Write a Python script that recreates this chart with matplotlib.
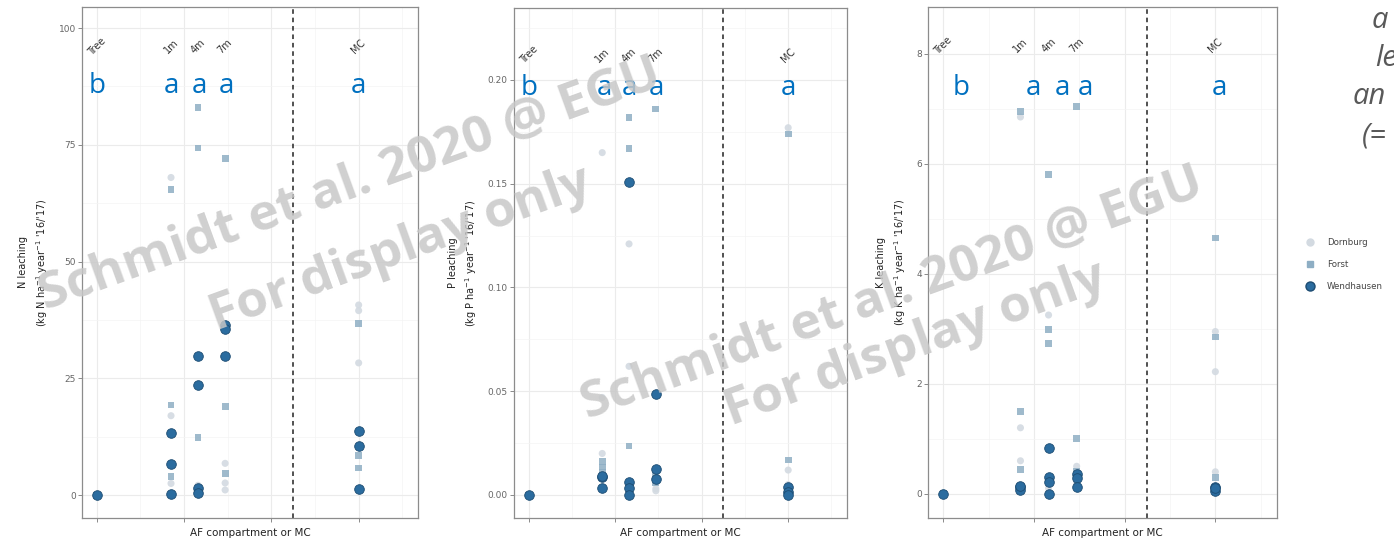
import numpy as np
import matplotlib
matplotlib.use("Agg")
import matplotlib.pyplot as plt
from matplotlib.lines import Line2D

# compartments and their positions on the x axis
compartments = ["Tree", "1m", "4m", "7m", "MC"]
comp_x = [0.0, 0.85, 1.16, 1.47, 3.0]
split_x = 2.25

sites = ["Dornburg", "Forst", "Wendhausen"]

# leaching per site, one list of plot values per compartment
n_dornburg = [[0], [68.0, 17.0, 2.5], [2.1, 1.2, 0.5], [6.8, 2.6, 1.1], [40.7, 39.5, 28.3]]
n_forst = [[0], [65.5, 19.3, 3.9], [82.9, 74.3, 12.4], [72.1, 19.0, 4.7], [36.8, 8.4, 5.8]]
n_wendhausen = [[0], [13.2, 6.6, 0.2], [29.8, 23.6, 1.5, 0.4], [36.4, 35.5, 29.8], [13.7, 10.5, 1.3]]

p_dornburg = [[0], [0.165, 0.047, 0.020], [0.121, 0.062, 0.002], [0.006, 0.003, 0.002], [0.177, 0.012, 0.005]]
p_forst = [[0], [0.016, 0.0135, 0.011], [0.182, 0.167, 0.0236], [0.186, 0.010, 0.006], [0.174, 0.0169, 0.003]]
p_wendhausen = [[0], [0.0087, 0.0034, 0.009], [0.151, 0.0063, 0.0034, 0.0], [0.0487, 0.0125, 0.0077], [0.004, 0.0015, 0.0]]

k_dornburg = [[0], [6.85, 1.2, 0.6], [3.25, 0.3, 0.1], [0.5, 0.35, 0.2], [2.95, 2.22, 0.4]]
k_forst = [[0], [6.95, 1.49, 0.44], [5.8, 2.98, 2.73], [7.04, 1.0, 0.4], [4.65, 2.85, 0.29]]
k_wendhausen = [[0], [0.13, 0.07, 0.15], [0.84, 0.31, 0.22, 0.0], [0.36, 0.29, 0.13], [0.13, 0.05, 0.1]]

# significance letters
letters = ["b", "a", "a", "a", "a"]
letter_x_n = [0.0, 0.85, 1.17, 1.48, 3.0]
letter_x_p = [0.0, 0.87, 1.17, 1.48, 3.0]
letter_x_k = [0.19, 0.99, 1.31, 1.57, 3.04]

n_ticks = [0, 25, 50, 75, 100]
p_ticks = [0.00, 0.05, 0.10, 0.15, 0.20]
k_ticks = [0, 2, 4, 6, 8]

site_style = {
    "Dornburg": dict(marker="o", s=26, color="#d3dae1", edgecolors="none", alpha=0.9),
    "Forst": dict(marker="s", s=24, color="#8eaec4", edgecolors="none", alpha=0.85),
    "Wendhausen": dict(marker="o", s=48, color="#2b6c9f", edgecolors="#1d4c72", linewidths=0.6),
}

W, H = 1394, 542
fig = plt.figure(figsize=(W / 100, H / 100), dpi=100)


def px_box(left, top, right, bottom):
    return [left / W, 1 - bottom / H, (right - left) / W, (bottom - top) / H]


panels = [
    dict(box=px_box(82, 7, 418, 518), data=[n_dornburg, n_forst, n_wendhausen],
         ylim=(-4.9, 104.5), ticks=n_ticks, fmt="{:.0f}", minor=12.5,
         ylabel="N leaching\n(kg N ha$^{-1}$ year$^{-1}$ '16/'17)",
         label_y=96, letter_y=87.5, letter_x=letter_x_n),
    dict(box=px_box(514, 8, 847, 518), data=[p_dornburg, p_forst, p_wendhausen],
         ylim=(-0.0111, 0.2347), ticks=p_ticks, fmt="{:.2f}", minor=0.025,
         ylabel="P leaching\n(kg P ha$^{-1}$ year$^{-1}$ '16/'17)",
         label_y=0.212, letter_y=0.196, letter_x=letter_x_p),
    dict(box=px_box(928, 7, 1277, 518), data=[k_dornburg, k_forst, k_wendhausen],
         ylim=(-0.44, 8.85), ticks=k_ticks, fmt="{:.0f}", minor=1,
         ylabel="K leaching\n(kg K ha$^{-1}$ year$^{-1}$ '16/'17)",
         label_y=8.15, letter_y=7.38, letter_x=letter_x_k),
]

for p in panels:
    ax = fig.add_axes(p["box"])
    ax.set_xlim(-0.17, 3.68)
    ax.set_ylim(*p["ylim"])
    ax.set_xticks([0, 1, 2, 3])
    ax.set_xticks([0.5, 1.5, 2.5, 3.5], minor=True)
    ax.set_xticklabels([])
    ax.set_yticks(p["ticks"])
    ax.set_yticklabels([p["fmt"].format(t) for t in p["ticks"]])
    ax.set_yticks(np.arange(p["ticks"][0] + p["minor"], p["ylim"][1], 2 * p["minor"]), minor=True)
    ax.grid(True, which="major", color="#ebebeb", lw=0.8)
    ax.grid(True, which="minor", color="#f4f4f4", lw=0.5)
    ax.set_axisbelow(True)
    ax.tick_params(which="major", length=3, width=0.6, color="#777777",
                   labelsize=6.5, labelcolor="#666666", pad=1.5)
    ax.tick_params(which="minor", length=0)
    for sp in ax.spines.values():
        sp.set_color("#8c8c8c")
        sp.set_linewidth(0.9)

    for site, vals in zip(sites, p["data"]):
        xs = [comp_x[i] for i, v in enumerate(vals) for _ in v]
        ys = [y for v in vals for y in v]
        ax.scatter(xs, ys, zorder=3, **site_style[site])

    ax.axvline(split_x, color="#222222", lw=1.1, ls=(0, (3, 2.5)), zorder=2)

    for cx, name in zip(comp_x, compartments):
        ax.text(cx, p["label_y"], name, rotation=45, ha="center", va="center",
                fontsize=7, color="#333333")
    for lx, lt in zip(p["letter_x"], letters):
        ax.text(lx, p["letter_y"], lt, ha="center", va="center", fontsize=20,
                color="#0070C0", family="Open Sans")

    ax.set_ylabel(p["ylabel"], fontsize=7, color="#222222", labelpad=6, linespacing=1.5)
    ax.set_xlabel("AF compartment or MC", fontsize=7.5, color="#222222", labelpad=3)

# legend on the right
handles = [
    Line2D([], [], ls="none", marker="o", ms=5, color="#d3dae1"),
    Line2D([], [], ls="none", marker="s", ms=4.5, color="#8eaec4"),
    Line2D([], [], ls="none", marker="o", ms=6.5, color="#2b6c9f", mec="#1d4c72"),
]
fig.legend(handles, sites, loc="upper left", bbox_to_anchor=(1294 / W, 1 - 230 / H),
           frameon=False, fontsize=6.2, labelspacing=1.55, handletextpad=0.9,
           labelcolor="#444444")

# caption text running off the right edge
for txt, x, y in [("a", 1372, 20), ("le", 1375, 58), ("an", 1353, 97), ("(=", 1362, 136)]:
    fig.text(x / W, 1 - y / H, txt, fontsize=21, style="italic", color="#595959",
             family="Open Sans", ha="left", va="center")

# watermark
wm = dict(fontsize=37, weight="bold", color="#c8c8c8", alpha=0.85, rotation=20,
          ha="center", va="center", family="Open Sans", rotation_mode="anchor")
fig.text(350 / W, 1 - 186 / H, "Schmidt et al. 2020 @ EGU", **wm)
fig.text(400 / W, 1 - 250 / H, "For display only", **wm)
fig.text(892 / W, 1 - 295 / H, "Schmidt et al. 2020 @ EGU", **wm)
fig.text(915 / W, 1 - 345 / H, "For display only", **wm)

fig.savefig("out.png", dpi=100)
